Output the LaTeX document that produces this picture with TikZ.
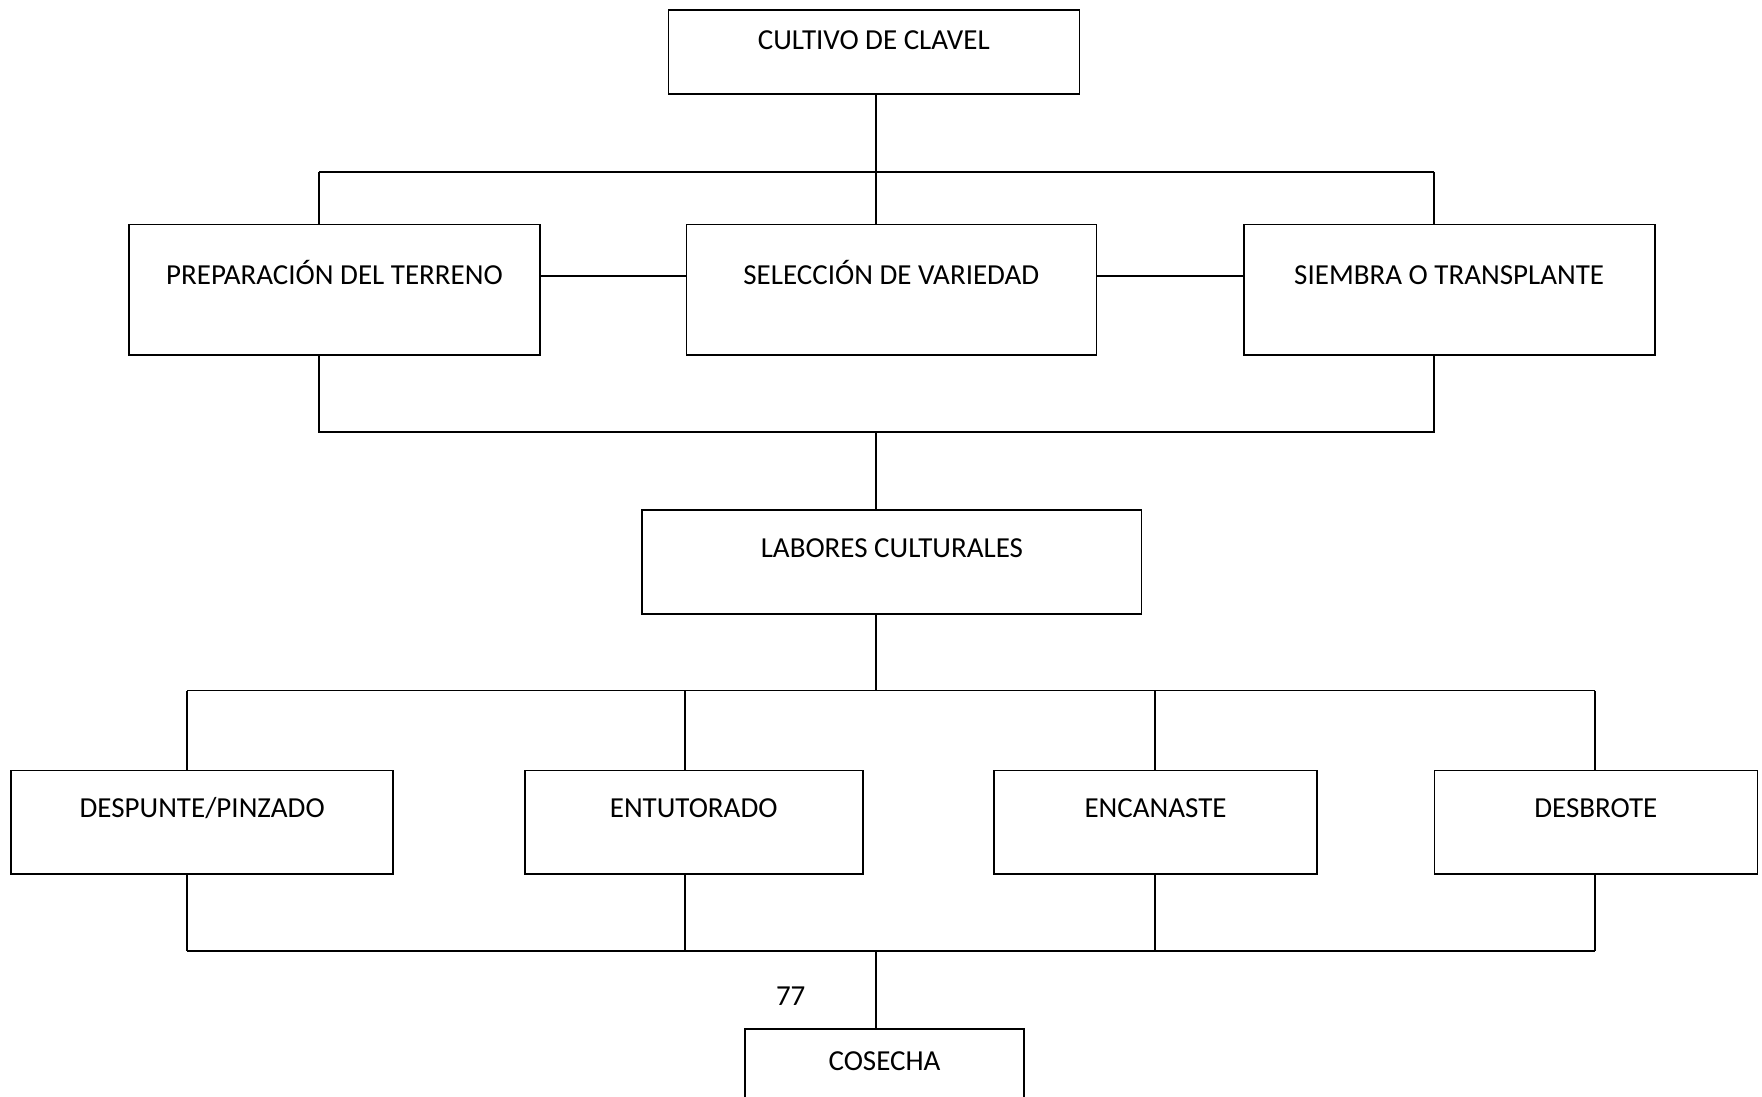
\documentclass[tikz,border=0pt]{standalone}
\usepackage{fontspec}
\setmainfont{Carlito}
\begin{document}
\begin{tikzpicture}[x=1pt,y=-1pt,
  every path/.style={line width=1.7pt},
  box/.style={draw, line width=1.7pt, inner sep=0pt, anchor=north west,
    font=\fontsize{29}{35}\selectfont},
  tlabel/.style={font=\fontsize{29}{35}\selectfont, inner sep=0pt}]
\useasboundingbox[fill=white] (0,0) rectangle (1762,1097);

% level 0
\node[box, minimum width=411, text height=40, text depth=44.3] (cultivo) at (667.5,9) {CULTIVO DE CLAVEL};

% level 1
\node[box, minimum width=411, text height=59.8, text depth=70.6] (prep) at (128.1,223.6) {PREPARACIÓN DEL TERRENO};
\node[box, minimum width=410, text height=59.8, text depth=70.6] (selec) at (685.5,223.6) {SELECCIÓN DE VARIEDAD};
\node[box, minimum width=411, text height=59.8, text depth=70.6] (siembra) at (1242.8,223.6) {SIEMBRA O TRANSPLANTE};

% level 2
\node[box, minimum width=499.3, text height=47.6, text depth=56.4] (labores) at (641.4,509.3) {LABORES CULTURALES};

% level 3
\node[box, minimum width=382, text height=47, text depth=56.8] (despunte) at (10.3,769.5) {DESPUNTE/PINZADO};
\node[box, minimum width=338.1, text height=47, text depth=56.8] (entutorado) at (523.8,769.5) {ENTUTORADO};
\node[box, minimum width=322.6, text height=47, text depth=56.8] (encanaste) at (993.4,769.5) {ENCANASTE};
\node[box, minimum width=323, text height=47, text depth=56.8] (desbrote) at (1433.5,769.5) {DESBROTE};

% level 4
\node[box, minimum width=279.2, text height=41.1, text depth=70] (cosecha) at (744,1028.3) {COSECHA};
\node[tlabel] (num) at (790.7,996) {77};

% bus coordinates
\coordinate (busA) at (876,172);
\coordinate (aL) at (319,172);
\coordinate (aR) at (1433.8,172);
\coordinate (busB) at (876,431.7);
\coordinate (bL) at (319,431.7);
\coordinate (bR) at (1433.8,431.7);
\coordinate (busC) at (876,690.5);
\coordinate (c1) at (186.8,690.5);
\coordinate (c2) at (685.3,690.5);
\coordinate (c3) at (1155,690.5);
\coordinate (c4) at (1595,690.5);
\coordinate (busD) at (876,951);
\coordinate (d1) at (186.8,951);
\coordinate (d2) at (685.3,951);
\coordinate (d3) at (1155,951);
\coordinate (d4) at (1595,951);

% cultivo to level 1
\draw (busA |- cultivo.south) -- (busA);
\draw (aL) -- (aR);
\draw (aL) -- (aL |- prep.north);
\draw (busA) -- (busA |- selec.north);
\draw (aR) -- (aR |- siembra.north);

% side links on level 1
\coordinate (sideY) at (0,275.7);
\draw (prep.east |- sideY) -- (selec.west |- sideY);
\draw (selec.east |- sideY) -- (siembra.west |- sideY);

% level 1 to labores
\draw (bL |- prep.south) -- (bL) -- (bR) -- (bR |- siembra.south);
\draw (busB) -- (busB |- labores.north);

% labores to level 3
\draw (busC |- labores.south) -- (busC);
\draw (c1) -- (c4);
\draw (c1) -- (c1 |- despunte.north);
\draw (c2) -- (c2 |- entutorado.north);
\draw (c3) -- (c3 |- encanaste.north);
\draw (c4) -- (c4 |- desbrote.north);

% level 3 to cosecha
\draw (d1 |- despunte.south) -- (d1);
\draw (d2 |- entutorado.south) -- (d2);
\draw (d3 |- encanaste.south) -- (d3);
\draw (d4 |- desbrote.south) -- (d4);
\draw (d1) -- (d4);
\draw (busD) -- (busD |- cosecha.north);
\end{tikzpicture}
\end{document}
